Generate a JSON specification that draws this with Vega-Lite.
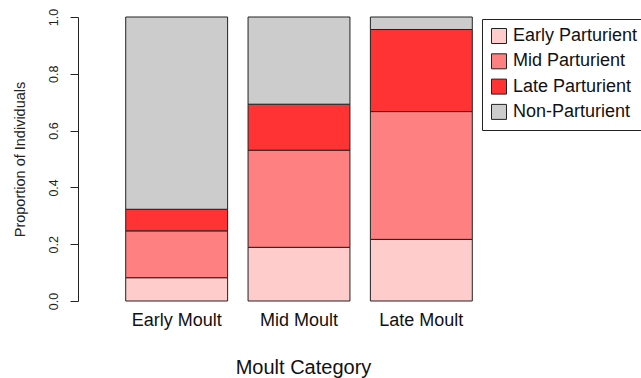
{
  "$schema": "https://vega.github.io/schema/vega-lite/v6.json",
  "autosize": "none",
  "width": 442,
  "height": 284,
  "padding": {"left": 78, "top": 17, "right": 121, "bottom": 77},
  "background": "white",
  "config": {
    "view": {"stroke": null},
    "font": "Liberation Sans"
  },
  "data": {
    "values": [
      {"moult": "Early Moult", "status": "Early Parturient", "proportion": 0.082},
      {"moult": "Early Moult", "status": "Mid Parturient", "proportion": 0.165},
      {"moult": "Early Moult", "status": "Late Parturient", "proportion": 0.076},
      {"moult": "Early Moult", "status": "Non-Parturient", "proportion": 0.677},
      {"moult": "Mid Moult", "status": "Early Parturient", "proportion": 0.189},
      {"moult": "Mid Moult", "status": "Mid Parturient", "proportion": 0.342},
      {"moult": "Mid Moult", "status": "Late Parturient", "proportion": 0.162},
      {"moult": "Mid Moult", "status": "Non-Parturient", "proportion": 0.307},
      {"moult": "Late Moult", "status": "Early Parturient", "proportion": 0.217},
      {"moult": "Late Moult", "status": "Mid Parturient", "proportion": 0.45},
      {"moult": "Late Moult", "status": "Late Parturient", "proportion": 0.289},
      {"moult": "Late Moult", "status": "Non-Parturient", "proportion": 0.044}
    ]
  },
  "transform": [
    {"window": [{"op": "row_number", "as": "stackRank"}], "groupby": ["moult"]}
  ],
  "mark": {"type": "bar", "stroke": "#222222", "strokeWidth": 1},
  "encoding": {
    "x": {
      "field": "moult",
      "type": "nominal",
      "sort": ["Early Moult", "Mid Moult", "Late Moult"],
      "scale": {"paddingInner": 0.167, "paddingOuter": 0.39},
      "axis": {
        "title": "Moult Category",
        "labelAngle": 0,
        "domain": false,
        "ticks": false,
        "labelFontSize": 18,
        "labelColor": "#111111",
        "labelPadding": 10,
        "titleFontSize": 20,
        "titleFontWeight": "normal",
        "titleColor": "#111111",
        "titlePadding": 28,
        "titleX": 225
      }
    },
    "y": {
      "field": "proportion",
      "type": "quantitative",
      "stack": "zero",
      "scale": {"domain": [0, 1], "nice": false, "zero": true},
      "axis": {
        "title": "Proportion of Individuals",
        "values": [0, 0.2, 0.4, 0.6, 0.8, 1.0],
        "format": ".1f",
        "grid": false,
        "domainColor": "#222222",
        "tickColor": "#222222",
        "tickSize": 8,
        "labelAngle": 270,
        "labelAlign": "center",
        "labelBaseline": "bottom",
        "labelPadding": 10,
        "labelFontSize": 12.5,
        "labelColor": "#222222",
        "titleFontSize": 14.5,
        "titleFontWeight": "normal",
        "titleColor": "#222222",
        "titlePadding": 20
      }
    },
    "order": {"field": "stackRank", "type": "quantitative", "sort": "ascending"},
    "color": {
      "field": "status",
      "type": "nominal",
      "scale": {
        "domain": ["Early Parturient", "Mid Parturient", "Late Parturient", "Non-Parturient"],
        "range": ["#FFCCCC", "#FF8080", "#FF3333", "#CCCCCC"]
      },
      "legend": {
        "title": null,
        "orient": "none",
        "legendX": 404,
        "legendY": 2,
        "strokeColor": "#222222",
        "fillColor": "white",
        "padding": 8,
        "symbolType": "square",
        "symbolSize": 225,
        "symbolStrokeColor": "#222222",
        "symbolStrokeWidth": 1,
        "symbolOpacity": 1,
        "labelFontSize": 18,
        "labelColor": "#111111",
        "labelOffset": 5,
        "rowPadding": 5.3,
        "labelLimit": 300
      }
    }
  }
}
